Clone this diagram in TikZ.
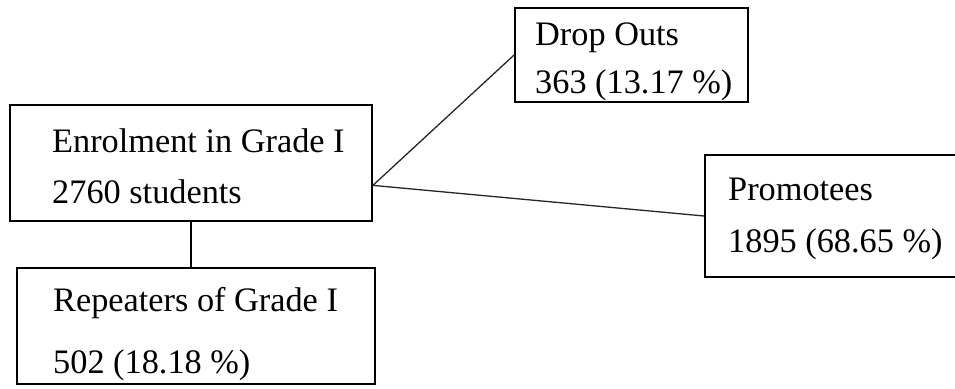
\documentclass[tikz,border=0pt]{standalone}
\usepackage{fontspec}
\setmainfont{Liberation Serif}
\usetikzlibrary{calc}
\begin{document}
\begin{tikzpicture}[x=1pt,y=-1pt,
  box/.style={draw=black, line width=1.8pt, rectangle, inner sep=0pt},
  label/.style={anchor=base west, inner sep=0pt, font=\fontsize{34.3}{40}\selectfont},
  link/.style={draw=black!85, line width=1.3pt}]
  \useasboundingbox (0,0) rectangle (955,388);
  % boxes (centre, size)
  \node[box, minimum width=362pt, minimum height=116pt] (enrol) at (191,163) {};
  \node[box, minimum width=358pt, minimum height=116pt] (rep)   at (196,326) {};
  \node[box, minimum width=233pt, minimum height=94pt]  (drop)  at (631.5,55) {};
  \node[box, minimum width=255pt, minimum height=122pt] (promo) at (832.5,216) {};
  % texts
  \node[label] (t1) at (52,152) {Enrolment in Grade I};
  \node[label] (t2) at (52,203) {2760 students};
  \node[label] (t3) at (53,311) {Repeaters of Grade I};
  \node[label] (t4) at (53,373) {502 (18.18 \%)};
  \node[label] (t5) at (535,45) {Drop Outs};
  \node[label] (t6) at (535,93) {363 (13.17 \%)};
  \node[label] (t7) at (728,200) {Promotees};
  \node[label] (t8) at (728,252) {1895 (68.65 \%)};
  % connectors
  \coordinate (fork) at ($(enrol.south east)!0.31!(enrol.north east)$);
  \draw[link] (fork) -- (drop.west);
  \draw[link] (fork) -- (promo.west);
  \draw[box] (enrol.south) -- (enrol.south |- rep.north);
\end{tikzpicture}
\end{document}
